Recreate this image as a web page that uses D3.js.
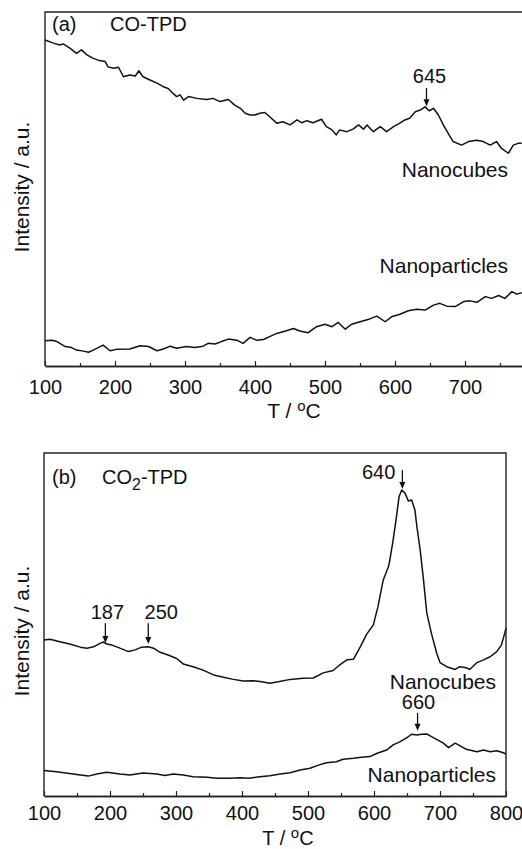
<!DOCTYPE html>
<html>
<head>
<meta charset="utf-8">
<script src="https://cdn.jsdelivr.net/npm/d3@7"></script>
<style>
  body { margin: 0; background: #fff; }
  svg { display: block; }
  text { font-family: "Liberation Sans", Arial, sans-serif; fill: #111; }
</style>
</head>
<body>
<script>
/*** DATA ***/
// temperatures (°C) on the x axis
let majorTicks = [100, 200, 300, 400, 500, 600, 700, 800];
let minorTicks = [150, 250, 350, 450, 550, 650, 750];

// (a) CO-TPD, [T, intensity a.u.]
let coCubes = [[100,92.1],[112,91.2],[121,90.7],[126,91.0],[136,89.7],[145,88.3],[152,89.3],[160,87.9],[169,86.9],[176,86.4],
  [186,86.0],[190,84.5],[198,84.1],[205,84.4],[212,81.7],[221,82.2],[229,81.9],[234,83.4],[240,81.7],[250,80.8],
  [260,79.9],[269,78.9],[276,78.4],[283,77.0],[288,76.1],[293,76.6],[298,75.1],[305,76.1],[317,75.6],[331,75.3],
  [340,75.6],[350,74.7],[362,75.3],[371,73.7],[379,72.8],[386,71.4],[393,70.9],[400,70.9],[407,71.4],[414,71.6],
  [421,70.4],[431,68.6],[440,69.0],[450,68.1],[460,69.5],[467,68.7],[474,69.3],[483,68.7],[495,69.7],[502,67.6],
  [510,66.7],[516,65.3],[521,66.7],[531,66.2],[540,66.9],[548,68.1],[555,66.9],[560,68.1],[569,66.2],[579,67.6],
  [588,66.2],[598,67.6],[607,68.6],[614,69.5],[621,70.0],[629,71.8],[636,72.3],[643,73.2],[649,72.1],[655,72.8],
  [662,70.9],[669,68.1],[676,65.7],[683,63.4],[695,62.4],[705,63.4],[717,63.8],[726,63.4],[736,62.4],[745,63.4],
  [752,61.5],[762,60.1],[769,62.4],[776,62.9],[781,62.9]];

let coParticles = [[100,7.1],[110,7.3],[117,6.9],[129,5.5],[138,5.2],[145,4.5],[155,4.2],[162,3.9],[169,4.5],[183,5.9],
  [193,4.3],[202,4.7],[221,4.8],[236,5.7],[248,5.5],[260,4.3],[269,4.8],[279,5.6],[288,5.0],[302,5.5],
  [314,5.2],[326,5.6],[333,6.4],[343,6.2],[352,6.9],[362,7.6],[374,7.3],[383,6.4],[393,8.1],[402,7.3],
  [412,7.5],[421,8.3],[431,9.2],[440,9.7],[455,10.6],[464,9.9],[476,9.4],[488,11.1],[500,11.8],[510,11.1],
  [519,12.3],[529,10.4],[538,11.8],[550,12.5],[564,13.3],[574,14.1],[586,12.5],[595,13.9],[607,14.6],[619,15.6],
  [631,16.0],[643,15.8],[655,17.2],[664,17.7],[674,16.9],[686,16.8],[698,18.2],[707,18.4],[717,18.0],[729,19.6],
  [738,19.1],[748,19.9],[757,19.1],[767,21.0],[774,20.3],[781,20.7]];

// (b) CO2-TPD, [T, intensity a.u.]
let co2Cubes = [[100,45.5],[109,45.7],[124,45.0],[139,44.3],[155,43.4],[165,43.1],[175,43.5],[185,44.5],[190,44.9],[195,44.3],
  [203,44.0],[215,43.1],[228,42.1],[238,42.6],[248,43.4],[258,43.5],[266,43.1],[276,41.9],[288,41.1],[301,40.1],
  [311,38.5],[326,37.7],[341,36.7],[357,35.3],[372,34.6],[387,34.0],[402,33.5],[417,33.6],[430,33.3],[442,32.9],
  [455,33.3],[473,34.0],[493,34.3],[508,34.4],[523,35.9],[538,36.6],[548,38.2],[559,39.7],[569,39.9],[579,43.4],
  [589,47.2],[599,49.9],[606,55.2],[614,63.0],[622,66.9],[624,68.8],[629,74.6],[634,81.4],[638,87.3],[642,89.2],
  [647,88.3],[652,86.0],[657,86.3],[662,83.4],[665,78.5],[670,71.7],[675,63.0],[680,53.3],[687,47.4],[695,41.6],
  [700,38.9],[710,37.7],[723,36.9],[730,37.7],[740,37.4],[745,36.9],[756,38.9],[766,39.7],[776,40.6],[786,42.1],
  [793,44.0],[798,47.4],[800,48.9]];

let co2Particles = [[100,7.4],[119,7.1],[144,6.4],[167,5.8],[180,6.4],[195,6.9],[215,6.4],[230,6.1],[250,6.7],[271,6.4],
  [283,6.0],[296,6.4],[311,6.1],[326,5.6],[347,5.5],[362,5.2],[382,5.2],[397,5.3],[410,5.2],[427,5.6],
  [442,5.9],[458,6.4],[473,6.8],[488,7.6],[503,8.1],[516,9.0],[528,9.7],[543,10.0],[553,10.7],[569,11.0],
  [581,11.3],[594,11.5],[604,12.4],[619,13.4],[629,14.9],[639,15.8],[650,17.0],[657,18.0],[665,17.8],[672,18.0],
  [680,18.1],[687,17.3],[697,16.3],[705,15.4],[713,14.1],[723,15.4],[730,14.7],[740,13.6],[756,12.9],[766,13.4],
  [776,12.9],[786,13.2],[796,12.6],[800,12.2]];

// peak marks: label, T of arrow, arrow top / tip intensity
let coPeaks = [["645", 645, 78.5, 73.4]];
let co2Peaks = [["187", 193, 50.4, 44.6], ["250", 258, 50.4, 44.3], ["640", 643, 95.0, 89.5], ["660", 666, 24.2, 19.0]];

/*** GRAPH ***/
let W = 522, H = 849;

let svg = d3.select("body").append("svg")
  .attr("width", W)
  .attr("height", H);

function drawPanel(p) {
  let x = d3.scaleLinear().domain([100, 800]).range([p.left, p.right]);
  let y = d3.scaleLinear().domain([0, 100]).range([p.bottom, p.top]);

  /* cadre */
  svg.append("path")
    .attr("d", "M" + p.left + "," + p.bottom + "V" + p.top + "H" + p.right + "V" + p.bottom)
    .attr("fill", "none")
    .attr("stroke", "#222")
    .attr("stroke-width", 1.4);

  /* axe x, graduations vers l'intérieur */
  let gx = svg.append("g")
    .attr("transform", "translate(0," + p.bottom + ")")
    .call(d3.axisBottom(x).tickValues(p.ticks).tickSizeInner(-5).tickSizeOuter(0).tickPadding(p.pad));
  gx.append("g")
    .call(d3.axisBottom(x).tickValues(minorTicks).tickSizeInner(-3).tickSizeOuter(0).tickFormat(""));
  gx.selectAll("path.domain").attr("stroke", "#222").attr("stroke-width", 1.4);
  gx.selectAll("line").attr("stroke", "#222").attr("stroke-width", 1.2);
  gx.selectAll("text")
    .attr("font-family", "'Liberation Sans', Arial, sans-serif")
    .attr("font-size", 20)
    .attr("fill", "#111");

  /* titre axe x */
  let tt = svg.append("text")
    .attr("x", p.titleX)
    .attr("y", p.titleY)
    .attr("text-anchor", "middle")
    .style("font-size", p.titleSize + "px");
  tt.append("tspan").text("T / ");
  tt.append("tspan").attr("dy", -7).style("font-size", "15px").text("o");
  tt.append("tspan").attr("dy", 7).text("C");

  /* titre axe y */
  svg.append("text")
    .attr("transform", "translate(" + p.yLabelX + "," + p.yLabelY + ") rotate(-90)")
    .attr("text-anchor", "middle")
    .style("font-size", "21px")
    .text("Intensity / a.u.");

  /* courbes */
  let line = d3.line().x(d => x(d[0])).y(d => y(d[1]));
  p.series.forEach(s => {
    svg.append("path")
      .datum(s)
      .attr("d", line)
      .attr("fill", "none")
      .attr("stroke", "#111")
      .attr("stroke-width", 1.5)
      .attr("stroke-linejoin", "round");
  });

  /* flèches des pics */
  p.peaks.forEach((d, i) => {
    let ax = x(d[1]), y0 = y(d[2]), y1 = y(d[3]);
    svg.append("line")
      .attr("x1", ax).attr("x2", ax)
      .attr("y1", y0).attr("y2", y1 - 5)
      .attr("stroke", "#111")
      .attr("stroke-width", 1.3);
    svg.append("path")
      .attr("d", "M" + (ax - 3) + "," + (y1 - 7) + "L" + (ax + 3) + "," + (y1 - 7) + "L" + ax + "," + y1 + "Z")
      .attr("fill", "#111");
    let o = p.peakLabel[i];
    svg.append("text")
      .attr("x", ax + o[0])
      .attr("y", y0 + o[1])
      .attr("text-anchor", o[2])
      .style("font-size", "20px")
      .text(d[0]);
  });

  /* légendes */
  svg.append("text").attr("x", 52).attr("y", p.tagY).style("font-size", "20px").text(p.tag);
  let t2 = svg.append("text").attr("x", p.nameX).attr("y", p.tagY).style("font-size", "20px");
  p.name(t2);

  p.curveNames.forEach(c => {
    svg.append("text")
      .attr("x", c[1])
      .attr("y", c[2])
      .attr("text-anchor", "end")
      .style("font-size", "21px")
      .text(c[0]);
  });
}

/* (a) */
drawPanel({
  left: 45, right: 535, top: 12, bottom: 366, pad: 14,
  ticks: [100, 200, 300, 400, 500, 600, 700],
  titleX: 294, titleY: 418, titleSize: 21,
  yLabelX: 29, yLabelY: 187,
  series: [coCubes, coParticles],
  peaks: coPeaks,
  peakLabel: [[3, -5, "middle"]],
  tag: "(a)", tagY: 31, nameX: 110,
  name: t => t.text("CO-TPD"),
  curveNames: [["Nanocubes", 508, 177], ["Nanoparticles", 508, 273]]
});

/* (b) */
drawPanel({
  left: 44, right: 506, top: 453, bottom: 796, pad: 10,
  ticks: majorTicks,
  titleX: 288, titleY: 844.5, titleSize: 20,
  yLabelX: 29, yLabelY: 631,
  series: [co2Cubes, co2Particles],
  peaks: co2Peaks,
  peakLabel: [[2, -4, "middle"], [13, -4, "middle"], [-7, 9, "end"], [1, -4, "middle"]],
  tag: "(b)", tagY: 484, nameX: 102,
  name: t => {
    t.append("tspan").text("CO");
    t.append("tspan").attr("dy", 6).style("font-size", "16px").text("2");
    t.append("tspan").attr("dy", -6).text("-TPD");
  },
  curveNames: [["Nanocubes", 496, 689], ["Nanoparticles", 496, 782]]
});
</script>
</body>
</html>
